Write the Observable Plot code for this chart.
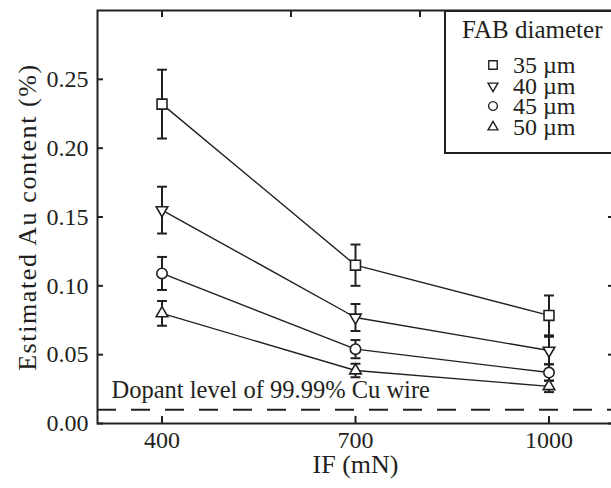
<!DOCTYPE html>
<html>
<head>
<meta charset="utf-8">
<script src="https://cdn.jsdelivr.net/npm/d3@7"></script>
<script src="https://cdn.jsdelivr.net/npm/@observablehq/plot@0.6"></script>
<style>
  html, body { margin: 0; padding: 0; background: #fff; }
  #wrap { position: relative; width: 611px; height: 488px; overflow: hidden; font-family: "Liberation Serif", "Times New Roman", serif; color: #231f20; }
  #legend { position: absolute; left: 444px; top: 10px; width: 180px; height: 140px; border: 2px solid #231f20; background: #fff; box-sizing: content-box; }
  #legend .title { position: absolute; left: 16px; top: 8px; height: 20px; font-size: 25px; line-height: 20px; white-space: nowrap; }
  #legend .row { position: absolute; left: 0; height: 20px; width: 180px; }
  #legend .row span { position: absolute; display: block; left: 67px; top: 0; height: 20px; font-size: 24px; line-height: 20px; white-space: nowrap; }
  #legend .row svg { position: absolute; left: 37px; top: 0; }
</style>
</head>
<body>
<div id="wrap"></div>
<script>
// ---- data ----
const IF = [400, 700, 1000];                 // mN
const seriesNames = ["35 µm", "40 µm", "45 µm", "50 µm"];
const au35 = [0.232, 0.115, 0.0785];
const err35 = [0.025, 0.015, 0.0145];
const au40 = [0.155, 0.077, 0.053];
const err40 = [0.017, 0.0098, 0.010];
const au45 = [0.109, 0.054, 0.037];
const err45 = [0.012, 0.0066, 0.006];
const au50 = [0.080, 0.0385, 0.027];
const err50 = [0.009, 0.0049, 0.0042];
const dopantLevel = 0.01;
const yTicks = [0, 0.05, 0.10, 0.15, 0.20, 0.25];
const xTicks = [400, 700, 1000];
const xTopTicks = [400, 600, 800, 1000];

const values = [au35, au40, au45, au50];
const errors = [err35, err40, err45, err50];
const symbols = ["square", "triangle", "circle", "triangle"];
const rotations = [0, 180, 0, 0];
const radii = [5.6, 4.3, 5.2, 4.3];

const data = [];
seriesNames.forEach((s, i) => {
  IF.forEach((x, j) => {
    data.push({series: s, idx: i, x, y: values[i][j], lo: values[i][j] - errors[i][j], hi: values[i][j] + errors[i][j]});
  });
});

const ink = "#231f20";
const cap = { draw(ctx, size) { const w = Math.sqrt(size); ctx.moveTo(-w / 2, 0); ctx.lineTo(w / 2, 0); } };
const yLabel = "Estimated Au content (%)";

const marks = [
  Plot.frame({stroke: ink, strokeWidth: 2}),
  Plot.ruleY([dopantLevel], {stroke: ink, strokeWidth: 2, strokeDasharray: "19,15"}),
  Plot.text(["Dopant level of 99.99% Cu wire"], {frameAnchor: "bottom-left", textAnchor: "start", dx: 14, dy: -26, fontSize: 24.5, fill: ink}),
  Plot.line(data, {x: "x", y: "y", z: "series", stroke: ink, strokeWidth: 1.4}),
  Plot.ruleX(data, {x: "x", y1: "lo", y2: "hi", stroke: ink, strokeWidth: 2}),
  Plot.dot(data, {x: "x", y: "lo", symbol: () => cap, r: 5.6, stroke: ink, strokeWidth: 2}),
  Plot.dot(data, {x: "x", y: "hi", symbol: () => cap, r: 5.6, stroke: ink, strokeWidth: 2}),
];
// markers per series (symbol & rotation fixed per series)
seriesNames.forEach((s, i) => {
  marks.push(Plot.dot(data.filter(d => d.series === s), {
    x: "x", y: "y", symbol: symbols[i], rotate: rotations[i], r: radii[i],
    fill: "white", stroke: ink, strokeWidth: 1.6
  }));
});
marks.push(
  Plot.axisY({anchor: "left", ticks: yTicks, tickSize: -6, tickPadding: 15, tickFormat: d3.format(".2f"), stroke: ink, strokeWidth: 2, fill: ink, label: null}),
  Plot.axisY({anchor: "right", ticks: yTicks, tickSize: -6, tickFormat: () => "", stroke: ink, strokeWidth: 2, label: null}),
  Plot.axisX({anchor: "bottom", ticks: xTicks, tickSize: -7, tickPadding: 14, tickFormat: d => String(d), stroke: ink, strokeWidth: 2, fill: ink, label: null}),
  Plot.axisX({anchor: "top", ticks: xTopTicks, tickSize: -6, tickFormat: () => "", stroke: ink, strokeWidth: 2, label: null}),
  Plot.text(["IF (mN)"], {frameAnchor: "bottom", dy: 49, fontSize: 26, fill: ink}),
  Plot.text([yLabel], {frameAnchor: "left", textAnchor: "middle", dx: -70, dy: 0, rotate: -90, fontSize: 26, fill: ink})
);

const chart = Plot.plot({
  width: 611,
  height: 488,
  marginLeft: 97,
  marginRight: -2,
  marginTop: 10,
  marginBottom: 65,
  x: {domain: [300, 1100]},
  y: {domain: [0, 0.30]},
  style: {fontFamily: '"Liberation Serif", "Times New Roman", serif', fontSize: "24px", color: ink, background: "white", overflow: "visible"},
  marks
});

// slightly wider tracking on the y-axis title, as in the reference
d3.select(chart).selectAll("text").filter(function () { return this.textContent === yLabel; }).attr("letter-spacing", "1.6px");

const wrap = document.getElementById("wrap");
wrap.appendChild(chart);

// legend (inside the plot frame, top right)
const legend = document.createElement("div");
legend.id = "legend";
const title = document.createElement("div");
title.className = "title";
title.textContent = "FAB diameter";
legend.appendChild(title);
const rowTops = [43, 64, 84, 105];
const symMap = {square: d3.symbolSquare, triangle: d3.symbolTriangle, circle: d3.symbolCircle};
seriesNames.forEach((s, i) => {
  const row = document.createElement("div");
  row.className = "row";
  row.style.top = rowTops[i] + "px";
  const r = radii[i] * 0.85;
  const path = d3.symbol(symMap[symbols[i]], r * r * Math.PI)();
  row.innerHTML = `<svg width="20" height="20" viewBox="-10 -10 20 20"><path d="${path}" transform="rotate(${rotations[i]})" fill="white" stroke="${ink}" stroke-width="1.4"/></svg><span>${s}</span>`;
  legend.appendChild(row);
});
wrap.appendChild(legend);
</script>
</body>
</html>
